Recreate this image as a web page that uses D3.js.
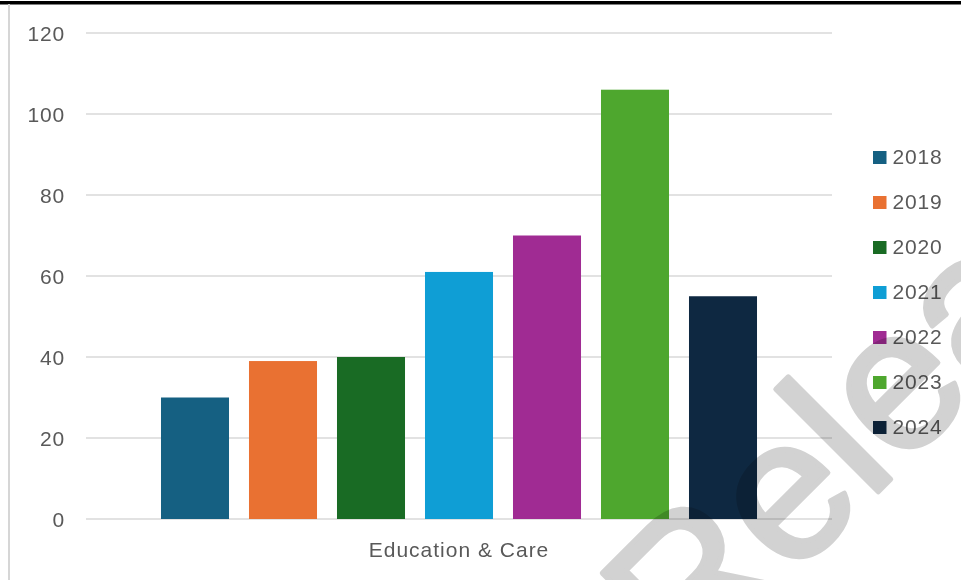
<!DOCTYPE html>
<html>
<head>
<meta charset="utf-8">
<script src="https://cdn.jsdelivr.net/npm/d3@7"></script>
<style>
  html, body { margin: 0; padding: 0; background: #fff; }
  svg { display: block; }
</style>
</head>
<body>
<svg id="chart" width="961" height="580"></svg>
<script>
const categories = ["Education & Care"];
const years = ["2018", "2019", "2020", "2021", "2022", "2023", "2024"];
const values = [30, 39, 40, 61, 70, 106, 55];
const colors = ["#156082", "#E97132", "#196B24", "#0F9ED5", "#A02B93", "#4EA72E", "#0E2841"];
const yTicks = [0, 20, 40, 60, 80, 100, 120];

const svg = d3.select("#chart");
const W = 961, H = 580;
const plot = { left: 86, right: 832, top: 33, bottom: 519 };
const font = "'Liberation Sans', Arial, sans-serif";
const textColor = "#595959";

// frame
svg.append("rect").attr("x", 0).attr("y", 0).attr("width", W).attr("height", H).attr("fill", "#fff");
svg.append("rect").attr("x", 0).attr("y", 1).attr("width", W).attr("height", 3.5).attr("fill", "#000");
svg.append("rect").attr("x", 8).attr("y", 4).attr("width", 2).attr("height", H - 4).attr("fill", "#d6d6d6");

const y = d3.scaleLinear().domain([0, 120]).range([plot.bottom, plot.top]);
const x0 = d3.scaleBand().domain(categories).range([plot.left, plot.right]).paddingOuter(0.1055).paddingInner(0);
const x1 = d3.scaleBand().domain(years).range([0, x0.bandwidth()]).paddingInner(0.227).paddingOuter(0.1136);
const color = d3.scaleOrdinal().domain(years).range(colors);

// gridlines
svg.append("g").selectAll("line").data(yTicks).join("line")
  .attr("x1", plot.left).attr("x2", plot.right)
  .attr("y1", d => y(d)).attr("y2", d => y(d))
  .attr("stroke", "#d9d9d9").attr("stroke-width", 1.3);

// y axis labels
const yAxis = d3.axisLeft(y).tickValues(yTicks).tickSize(0).tickPadding(0);
const gy = svg.append("g").attr("transform", "translate(65,0)").call(yAxis);
gy.select(".domain").remove();
gy.selectAll("text")
  .attr("font-family", font).attr("font-size", 21).attr("fill", textColor)
  .attr("letter-spacing", 0.8).attr("dy", "0.36em");

// bars
const data = years.map((yr, i) => ({ cat: categories[0], year: yr, value: values[i] }));
svg.append("g").selectAll("rect").data(data).join("rect")
  .attr("x", d => x0(d.cat) + x1(d.year))
  .attr("width", x1.bandwidth())
  .attr("y", d => y(d.value))
  .attr("height", d => y(0) - y(d.value))
  .attr("fill", d => color(d.year));

// x axis label
const xAxis = d3.axisBottom(x0).tickSize(0).tickPadding(0);
const gx = svg.append("g").attr("transform", `translate(0,${plot.bottom})`).call(xAxis);
gx.select(".domain").remove();
gx.selectAll("text")
  .attr("font-family", font).attr("font-size", 21).attr("fill", textColor)
  .attr("letter-spacing", 1).attr("y", 38).attr("dy", 0);

// legend
const legend = svg.append("g").selectAll("g").data(years).join("g")
  .attr("transform", (d, i) => `translate(873,${157.5 + i * 45})`);
legend.append("rect").attr("x", 0).attr("y", -6.5).attr("width", 13.5).attr("height", 13)
  .attr("fill", d => color(d));
legend.append("text").attr("x", 19.5).attr("y", 0).attr("dy", "0.33em")
  .attr("font-family", font).attr("font-size", 21).attr("fill", textColor)
  .attr("letter-spacing", 0.8).text(d => d);

// watermark
svg.append("text")
  .attr("transform", "translate(688,682) rotate(-45)")
  .attr("font-family", font).attr("font-size", 200)
  .attr("fill", "#d2d2d2").attr("stroke", "#d2d2d2").attr("stroke-width", 5)
  .attr("stroke-linejoin", "round")
  .style("mix-blend-mode", "multiply")
  .text("Release");
</script>
</body>
</html>
